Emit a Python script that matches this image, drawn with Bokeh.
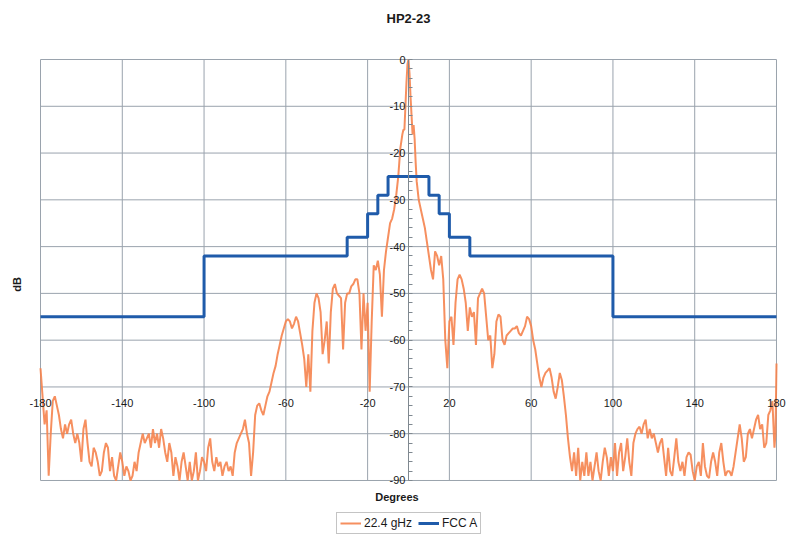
from bokeh.plotting import figure
from bokeh.models import (LinearAxis, FixedTicker, Legend, LegendItem, Range1d,
                          Title, Grid)
from bokeh.embed import file_html
from bokeh.resources import INLINE

# ---------------- data ----------------
title_text = "HP2-23"
x_label = "Degrees"
y_label = "dB"
series_names = ["22.4 gHz", "FCC A"]

x_tick_values = [-180, -140, -100, -60, -20, 20, 60, 100, 140, 180]
y_tick_values = [0, -10, -20, -30, -40, -50, -60, -70, -80, -90]
y_minor_values = [-90, -88, -86, -84, -82, -80, -78, -76, -74, -72, -70, -68, -66, -64,
                  -62, -60, -58, -56, -54, -52, -50, -48, -46, -44, -42, -40, -38, -36,
                  -34, -32, -30, -28, -26, -24, -22, -20, -18, -16, -14, -12, -10, -8,
                  -6, -4, -2, 0]
x_axis_crossing = -70   # dB level where the degree labels sit
y_axis_crossing = 0     # degree where the dB labels sit

# measured pattern, 22.4 GHz (angle in degrees, level in dB)
angle_deg = [
    -180, -179, -178, -177, -176, -175, -174, -173, -172, -171,
    -170, -169, -168, -167, -166, -165, -164, -163, -162, -161,
    -160, -159, -158, -157, -156, -155, -154, -153, -152, -151,
    -150, -149, -148, -147, -146, -145, -144, -143, -142, -141,
    -140, -139, -138, -137, -136, -135, -134, -133, -132, -131,
    -130, -129, -128, -127, -126, -125, -124, -123, -122, -121,
    -120, -119, -118, -117, -116, -115, -114, -113, -112, -111,
    -110, -109, -108, -107, -106, -105, -104, -103, -102, -101,
    -100, -99, -98, -97, -96, -95, -94, -93, -92, -91,
    -90, -89, -88, -87, -86, -85, -84, -83, -82, -81,
    -80, -79, -78, -77, -76, -75, -74, -73, -72, -71,
    -70, -69, -68, -67, -66, -65, -64, -63, -62, -61,
    -60, -59, -58, -57, -56, -55, -54, -53, -52, -51,
    -50, -49, -48, -47, -46, -45, -44, -43, -42, -41,
    -40, -39, -38, -37, -36, -35, -34, -33, -32, -31,
    -30, -29, -28, -27, -26, -25, -24, -23, -22, -21,
    -20, -19, -18, -17, -16, -15, -14, -13, -12, -11,
    -10, -9, -8, -7, -6, -5, -4, -3, -2.5, -2, -1.5, -1, -0.5,
    0, 0.5, 1, 1.5, 2, 2.5, 3, 3.5, 4, 5, 6, 7, 8, 9,
    10, 11, 12, 13, 14, 15, 16, 17, 18, 19,
    20, 21, 22, 23, 24, 25, 26, 27, 28, 29,
    30, 31, 32, 33, 34, 35, 36, 37, 38, 39,
    40, 41, 42, 43, 44, 45, 46, 47, 48, 49,
    50, 51, 52, 53, 54, 55, 56, 57, 58, 59,
    60, 61, 62, 63, 64, 65, 66, 67, 68, 69,
    70, 71, 72, 73, 74, 75, 76, 77, 78, 79,
    80, 81, 82, 83, 84, 85, 86, 87, 88, 89,
    90, 91, 92, 93, 94, 95, 96, 97, 98, 99,
    100, 101, 102, 103, 104, 105, 106, 107, 108, 109,
    110, 111, 112, 113, 114, 115, 116, 117, 118, 119,
    120, 121, 122, 123, 124, 125, 126, 127, 128, 129,
    130, 131, 132, 133, 134, 135, 136, 137, 138, 139,
    140, 141, 142, 143, 144, 145, 146, 147, 148, 149,
    150, 151, 152, 153, 154, 155, 156, 157, 158, 159,
    160, 161, 162, 163, 164, 165, 166, 167, 168, 169,
    170, 171, 172, 173, 174, 175, 176, 177, 178, 179, 179.5, 180,
]
level_22_4ghz = [
    -66, -72, -78, -75, -89, -80, -73, -72, -74, -76,
    -79, -81, -78, -80, -78, -77, -80, -82, -80, -82,
    -86, -79, -77, -82, -86, -87, -83, -84, -86, -89,
    -88, -84, -82, -83, -88, -85, -89, -90, -87, -84,
    -86, -89, -87, -88, -90, -89, -86, -88, -84, -82,
    -80, -82, -81, -80, -83, -79, -82, -80, -83, -79,
    -81, -84, -86, -82, -84, -89, -85, -87, -90, -86,
    -84, -87, -90, -86, -90, -88, -84, -90, -88, -85,
    -86, -88, -83, -81, -86, -88, -85, -87, -86, -89,
    -87, -86, -88, -87, -89, -84, -82, -81, -80, -79,
    -77, -80, -82, -89, -84, -76, -74, -73.5, -75, -76,
    -74, -72, -71, -69, -67, -65.5, -63, -61, -59, -57.5,
    -56, -55.5, -56, -57.5, -56.5, -55, -56, -58.5, -61, -64,
    -70, -63, -71, -58, -52, -50, -51, -54, -63, -60,
    -56, -65, -54, -49, -48, -50, -50.5, -51, -62, -52,
    -50, -50, -48.5, -48, -47, -47, -50, -62, -50, -58,
    -52, -71, -56, -44, -45, -43, -46, -55, -45, -41,
    -38, -35, -34, -32, -29, -25, -19, -16, -15, -15, -10, -5, -1,
    0, -3, -8, -12, -16, -14, -17, -22, -26, -30, -32, -34, -36, -39,
    -42, -45, -47, -41, -42, -44, -42, -47, -60, -66,
    -56, -55, -61, -52, -47, -46, -47, -49, -52, -58,
    -53, -55, -54, -61, -51, -50, -49, -50, -55, -60,
    -59, -66, -63, -56, -54.5, -55, -60, -61, -59, -58.5,
    -58, -57.5, -57.5, -57, -58.5, -59, -58, -57, -55, -55.5,
    -57, -60, -62, -65, -68, -70, -68, -67, -66.5, -66,
    -68, -71, -72.5, -70, -67, -68.5, -72, -76, -81, -85,
    -88, -84, -89, -83, -90, -86, -89, -84, -89, -86,
    -90, -87, -84, -88, -90, -86, -83, -85, -89, -85,
    -88, -82, -89, -84, -82, -88, -85, -81, -86, -89,
    -82, -80, -79, -78.5, -80, -78, -77, -81, -79, -81,
    -80, -82, -84, -82, -81, -85, -89, -83, -88, -89,
    -85, -81, -86, -88, -86, -89, -85, -84, -84.5, -88,
    -90, -87, -86, -89, -82, -87, -89, -89.5, -86, -84,
    -86, -89, -84, -82, -86, -89, -88, -88, -89, -87,
    -84, -81, -78, -81, -86, -85, -80, -79, -81, -79,
    -77, -76, -79, -78, -83, -82, -76, -75, -73, -83, -80, -65,
]

# FCC category A mask: step edges and levels (level holds from edge to next edge)
fcc_edges_deg = [-180, -100, -30, -20, -15, -10, 10, 15, 20, 30, 100, 180]
fcc_levels_db = [-55, -42, -38, -33, -29, -25, -29, -33, -38, -42, -55, -55]

# ---------------- style ----------------
FONT = "Liberation Sans"
GRID = "#9aa3ad"
AXIS = "#7f8890"
ORANGE = "#F5834E"
BLUE = "#1F5BAA"
TXT = "#1a1a1a"

x_lo, x_hi = min(x_tick_values), max(x_tick_values)
y_lo, y_hi = min(y_tick_values), max(y_tick_values)

# The frame is wider/taller than the gridded box so that the axis texts
# (drawn at fixed data locations) and the legend have room around it.
p = figure(frame_width=789, frame_height=502,
           x_range=Range1d(x_lo - 18.59, x_hi + 7.34),
           y_range=Range1d(y_lo - 11.76, y_hi + 5.56),
           x_axis_location=None, y_axis_location=None,
           output_backend="svg", toolbar_location=None,
           min_border_left=2, min_border_right=0, min_border_top=33,
           min_border_bottom=0, background_fill_color="white",
           border_fill_color="white")
p.center = [r for r in p.center if not isinstance(r, Grid)]
p.outline_line_color = None

p.title = Title(text=title_text, align="left", offset=384, text_font=FONT,
                text_font_size="13px", text_font_style="bold",
                text_color=TXT, standoff=16)

# grid (and plot border) built from the tick positions
nx, ny = len(x_tick_values), len(y_tick_values)
p.segment(x0=x_tick_values, y0=[y_lo] * nx, x1=x_tick_values, y1=[y_hi] * nx,
          line_color=GRID, line_width=1)
p.segment(x0=[x_lo] * ny, y0=y_tick_values, x1=[x_hi] * ny, y1=y_tick_values,
          line_color=GRID, line_width=1)

# axis through x = 0 (dB values)
yax = LinearAxis(fixed_location=y_axis_crossing, bounds=(y_lo, y_hi),
                 ticker=FixedTicker(ticks=y_tick_values, minor_ticks=y_minor_values),
                 major_label_overrides={v: str(v) for v in y_tick_values},
                 axis_line_color=AXIS, axis_line_width=1,
                 major_tick_in=0, major_tick_out=0,
                 minor_tick_in=4, minor_tick_out=0, minor_tick_line_color=AXIS,
                 major_label_standoff=3,
                 major_label_text_font=FONT, major_label_text_font_size="11px",
                 major_label_text_color=TXT)
p.add_layout(yax, "left")

# axis through y = -70 (degree values)
xax = LinearAxis(fixed_location=x_axis_crossing,
                 ticker=FixedTicker(ticks=x_tick_values),
                 major_label_overrides={v: str(v) for v in x_tick_values},
                 axis_line_color=None,
                 major_tick_in=0, major_tick_out=0,
                 minor_tick_in=0, minor_tick_out=0,
                 major_label_standoff=12,
                 major_label_text_font=FONT, major_label_text_font_size="11px",
                 major_label_text_color=TXT)
p.add_layout(xax, "below")

# axis titles, placed against the gridded box
ylab = LinearAxis(fixed_location=x_lo, ticker=FixedTicker(ticks=[]),
                  axis_line_color=None,
                  major_tick_out=0, major_tick_in=0, minor_tick_out=0, minor_tick_in=0,
                  major_label_text_font_size="0px", major_label_standoff=0,
                  axis_label=y_label, axis_label_text_font=FONT,
                  axis_label_text_font_size="11px", axis_label_text_font_style="bold",
                  axis_label_text_color=TXT, axis_label_standoff=18)
p.add_layout(ylab, "left")

xlab = LinearAxis(fixed_location=y_lo, ticker=FixedTicker(ticks=[]),
                  axis_line_color=None,
                  major_tick_out=0, major_tick_in=0, minor_tick_out=0, minor_tick_in=0,
                  major_label_text_font_size="0px", major_label_standoff=0,
                  axis_label=x_label, axis_label_text_font=FONT,
                  axis_label_text_font_size="11px", axis_label_text_font_style="bold",
                  axis_label_text_color=TXT, axis_label_standoff=10)
p.add_layout(xlab, "below")

r_meas = p.line(angle_deg, level_22_4ghz, line_color=ORANGE, line_width=2,
                line_alpha=0.9)
r_fcc = p.step(fcc_edges_deg, fcc_levels_db, mode="after", line_color=BLUE,
               line_width=3)

legend = Legend(items=[LegendItem(label=series_names[0], renderers=[r_meas]),
                       LegendItem(label=series_names[1], renderers=[r_fcc])],
                orientation="horizontal", location=(334, 1),
                label_text_font=FONT, label_text_font_size="12px",
                label_text_color=TXT, label_standoff=3,
                glyph_width=21, glyph_height=12, spacing=6,
                padding=3, margin=0, border_line_color="#8a8a8a",
                border_line_width=1, label_height=12,
                background_fill_color="white", background_fill_alpha=1)
p.add_layout(legend)

open("out.html", "w").write(file_html(p, INLINE))
